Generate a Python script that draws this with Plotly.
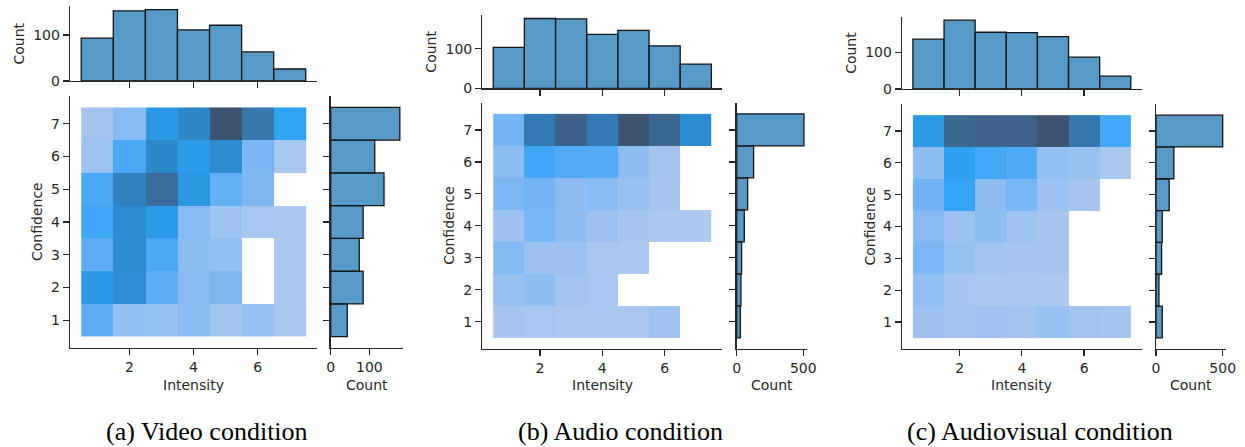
import math
import plotly.graph_objects as go

# ---------------- data ----------------
intensity = [1, 2, 3, 4, 5, 6, 7]
confidence = [1, 2, 3, 4, 5, 6, 7]

captions = ["(a) Video condition", "(b) Audio condition", "(c) Audiovisual condition"]

# marginal counts (top: per intensity, right: per confidence)
video_intensity_counts = [93, 152, 155, 111, 121, 63, 26]
video_confidence_counts = [43, 84, 74, 84, 138, 114, 179]
audio_intensity_counts = [103, 176, 175, 136, 146, 107, 61]
audio_confidence_counts = [27, 32, 37, 57, 82, 127, 505]
av_intensity_counts = [136, 188, 155, 154, 143, 87, 35]
av_confidence_counts = [47, 22, 42, 47, 99, 134, 500]

# joint counts: rows = confidence 1..7, columns = intensity 1..7
video_grid = [
    [14, 6, 5, 7, 3, 5, 2],
    [23, 28, 14, 8, 9, 0, 1],
    [14, 29, 16, 7, 6, 0, 1],
    [17, 29, 22, 8, 4, 2, 1],
    [16, 33, 42, 24, 13, 9, 0],
    [4, 16, 30, 22, 29, 10, 2],
    [3, 8, 23, 31, 53, 38, 19],
]
audio_grid = [
    [5, 4, 3, 3, 3, 8, 0],
    [10, 13, 6, 4, 0, 0, 0],
    [17, 9, 9, 3, 3, 0, 0],
    [9, 20, 13, 9, 5, 2, 2],
    [19, 21, 13, 15, 10, 5, 0],
    [14, 33, 30, 30, 13, 6, 0],
    [21, 71, 92, 71, 104, 88, 57],
]
av_grid = [
    [8, 6, 7, 6, 9, 6, 5],
    [11, 4, 2, 3, 2, 0, 0],
    [18, 10, 5, 4, 4, 0, 0],
    [15, 8, 13, 7, 4, 0, 0],
    [21, 34, 12, 19, 8, 4, 0],
    [13, 37, 31, 29, 11, 9, 3],
    [42, 84, 86, 86, 99, 70, 31],
]

# ---------------- husl colormap (seaborn style) ----------------
M = [[3.2406, -1.5372, -0.4986], [-0.9689, 1.8758, 0.0415], [0.0557, -0.2040, 1.0570]]
M_INV = [[0.4124, 0.3576, 0.1805], [0.2126, 0.7152, 0.0722], [0.0193, 0.1192, 0.9505]]
REF_Y, REF_U, REF_V = 1.0, 0.19784, 0.46834
LAB_E, LAB_K = 0.008856, 903.3


def max_chroma(L, H):
    hrad = math.radians(H)
    sinH, cosH = math.sin(hrad), math.cos(hrad)
    sub1 = (L + 16) ** 3 / 1560896.0
    sub2 = sub1 if sub1 > 0.008856 else L / 903.3
    result = float("inf")
    for m1, m2, m3 in M:
        top = (0.99915 * m1 + 1.05122 * m2 + 1.14460 * m3) * sub2
        rbottom = 0.86330 * m3 - 0.17266 * m2
        lbottom = 0.12949 * m3 - 0.38848 * m1
        bottom = (rbottom * sinH + lbottom * cosH) * sub2
        for t in (0.0, 1.0):
            C = L * (top - 1.05122 * t) / (bottom + 0.17266 * sinH * t)
            if 0.0 < C < result:
                result = C
    return result


def f(t):
    return t ** (1 / 3) if t > LAB_E else 7.787 * t + 16 / 116


def f_inv(t):
    return t ** 3 if t ** 3 > LAB_E else (116 * t - 16) / LAB_K


def to_linear(c):
    return ((c + 0.055) / 1.055) ** 2.4 if c > 0.04045 else c / 12.92


def from_linear(c):
    return 12.92 * c if c <= 0.0031308 else 1.055 * c ** (1 / 2.4) - 0.055


def rgb_to_husl(r, g, b):
    lin = [to_linear(c) for c in (r, g, b)]
    X, Y, Z = [sum(a * b for a, b in zip(row, lin)) for row in M_INV]
    d = X + 15 * Y + 3 * Z
    varU, varV = 4 * X / d, 9 * Y / d
    L = 116 * f(Y / REF_Y) - 16
    U = 13 * L * (varU - REF_U)
    V = 13 * L * (varV - REF_V)
    C = math.hypot(U, V)
    H = math.degrees(math.atan2(V, U)) % 360
    S = C / max_chroma(L, H) * 100
    return H, S, L


def husl_to_rgb(H, S, L):
    if L > 99.9999999:
        return (1.0, 1.0, 1.0)
    C = max_chroma(L, H) / 100 * S
    hrad = math.radians(H)
    U, V = math.cos(hrad) * C, math.sin(hrad) * C
    varY = f_inv((L + 16) / 116)
    varU = U / (13 * L) + REF_U
    varV = V / (13 * L) + REF_V
    Y = varY * REF_Y
    X = -(9 * Y * varU) / ((varU - 4) * varV - varU * varV)
    Z = (9 * Y - 15 * varV * Y - varV * X) / (3 * varV)
    rgb = [from_linear(sum(a * b for a, b in zip(row, (X, Y, Z)))) for row in M]
    return tuple(min(1, max(0, c)) for c in rgb)


def cmap_from_color(hexcol, n=256):
    r, g, b = (int(hexcol[i:i + 2], 16) / 255 for i in (1, 3, 5))
    h, s, _ = rgb_to_husl(r, g, b)
    N = int(1.15 * n)
    xx = [-1 + 2 * i / (N - 1) for i in range(N)][:n]
    ramp = []
    for i in range(n):
        L = 35 + 45 * i / (n - 1)
        ramp.append(husl_to_rgb(h, s * math.cos(xx[i]), L))
    ramp = ramp[::-1]
    scale = []
    for i, (rr, gg, bb) in enumerate(ramp):
        col = "rgb(%d,%d,%d)" % (round(rr * 255), round(gg * 255), round(bb * 255))
        scale.append([i / (n - 1), col])
    return scale


COLORSCALE = cmap_from_color("#1f77b4", 128)

# ---------------- layout geometry (pixels) ----------------
W, H = 1245, 447
panels = [
    dict(grid=video_grid, top=video_intensity_counts, right=video_confidence_counts,
         heat_x=(70, 317), heat_y=(96, 348), top_y=(6, 81), right_x=(330.7, 403.3),
         rdtick=100, cap_x=207, conf_x=37, cnt_x=18),
    dict(grid=audio_grid, top=audio_intensity_counts, right=audio_confidence_counts,
         heat_x=(482.3, 722.3), heat_y=(102.7, 349), top_y=(15, 88.3), right_x=(736.7, 807.3),
         rdtick=500, cap_x=620, conf_x=449, cnt_x=431),
    dict(grid=av_grid, top=av_intensity_counts, right=av_confidence_counts,
         heat_x=(902, 1141.7), heat_y=(104, 349), top_y=(16.7, 89), right_x=(1156, 1226),
         rdtick=500, cap_x=1040, conf_x=869, cnt_x=851),
]

TXT = "#262626"
FONT = dict(family="DejaVu Sans", size=14, color=TXT)
BAR_FILL = "rgba(31,119,180,0.75)"
BAR_EDGE = "#141414"


def xdom(a, b):
    return [a / W, b / W]


def ydom(top, bottom):
    return [1 - bottom / H, 1 - top / H]


def px_x(x):
    return x / W


def px_y(y):
    return 1 - y / H


def axis_style(**kw):
    d = dict(showline=True, linecolor=TXT, linewidth=1.25, ticks="outside", ticklen=6,
             tickwidth=1.25, tickcolor=TXT, showgrid=False, zeroline=False,
             tickfont=FONT, fixedrange=True, automargin=False)
    d.update(kw)
    return d


fig = go.Figure()
layout = dict(template="none", width=W, height=H, margin=dict(l=0, r=0, t=0, b=0, pad=0),
              autosize=False,
              paper_bgcolor="white", plot_bgcolor="white", showlegend=False,
              annotations=[])
XR = [0.15, 7.85]

for p, P in enumerate(panels):
    it, ih, ir = 3 * p + 1, 3 * p + 2, 3 * p + 3
    sfx = lambda i: "" if i == 1 else str(i)

    # top histogram
    fig.add_trace(go.Bar(x=intensity, y=P["top"], width=1,
                         marker=dict(color=BAR_FILL, line=dict(color=BAR_EDGE, width=1.3)),
                         xaxis="x" + sfx(it), yaxis="y" + sfx(it)))
    # joint histogram
    z = [[(v if v > 0 else None) for v in row] for row in P["grid"]]
    nz = [v for row in P["grid"] for v in row if v > 0]
    fig.add_trace(go.Heatmap(x=intensity, y=confidence, z=z, colorscale=COLORSCALE,
                             zmin=min(nz), zmax=max(nz), showscale=False, hoverongaps=False,
                             xaxis="x" + sfx(ih), yaxis="y" + sfx(ih)))
    # right histogram
    fig.add_trace(go.Bar(y=confidence, x=P["right"], width=1, orientation="h",
                         marker=dict(color=BAR_FILL, line=dict(color=BAR_EDGE, width=1.3)),
                         xaxis="x" + sfx(ir), yaxis="y" + sfx(ir)))

    hx, hy, ty, rx = P["heat_x"], P["heat_y"], P["top_y"], P["right_x"]
    layout["xaxis" + sfx(it)] = axis_style(domain=xdom(*hx), range=XR, tickvals=[2, 4, 6],
                                           showticklabels=False, anchor="y" + sfx(it))
    layout["yaxis" + sfx(it)] = axis_style(domain=ydom(*ty), range=[0, 1.05 * max(P["top"])],
                                           dtick=100, tick0=0, anchor="x" + sfx(it))
    layout["xaxis" + sfx(ih)] = axis_style(domain=xdom(*hx), range=XR, tickvals=[2, 4, 6],
                                           anchor="y" + sfx(ih))
    layout["yaxis" + sfx(ih)] = axis_style(domain=ydom(*hy), range=XR, tickvals=confidence,
                                           anchor="x" + sfx(ih))
    layout["xaxis" + sfx(ir)] = axis_style(domain=xdom(*rx), range=[0, 1.05 * max(P["right"])],
                                           dtick=P["rdtick"], tick0=0, anchor="y" + sfx(ir))
    layout["yaxis" + sfx(ir)] = axis_style(domain=ydom(*hy), range=XR, tickvals=confidence,
                                           showticklabels=False, anchor="x" + sfx(ir))

    ann = layout["annotations"]
    ann.append(dict(text="Intensity", x=px_x((hx[0] + hx[1]) / 2), y=px_y(385),
                    xref="paper", yref="paper", showarrow=False, font=FONT,
                    xanchor="center", yanchor="middle"))
    ann.append(dict(text="Count", x=px_x((rx[0] + rx[1]) / 2), y=px_y(385),
                    xref="paper", yref="paper", showarrow=False, font=FONT,
                    xanchor="center", yanchor="middle"))
    ann.append(dict(text="Confidence", x=px_x(P["conf_x"]), y=px_y((hy[0] + hy[1]) / 2),
                    xref="paper", yref="paper", showarrow=False, font=FONT, textangle=-90,
                    xanchor="center", yanchor="middle"))
    ann.append(dict(text="Count", x=px_x(P["cnt_x"]), y=px_y((ty[0] + ty[1]) / 2),
                    xref="paper", yref="paper", showarrow=False, font=FONT, textangle=-90,
                    xanchor="center", yanchor="middle"))
    ann.append(dict(text=captions[p], x=px_x(P["cap_x"]), y=px_y(431),
                    xref="paper", yref="paper", showarrow=False,
                    font=dict(family="P052, 'URW Palladio L', 'Palatino Linotype', Palatino, 'Liberation Serif', serif",
                              size=26, color="black"),
                    xanchor="center", yanchor="middle"))

fig.update_layout(**layout)
fig.write_html("out.html", config={"displayModeBar": False, "staticPlot": True},
               post_script="document.body.style.margin='0px';document.body.style.overflow='hidden';")
